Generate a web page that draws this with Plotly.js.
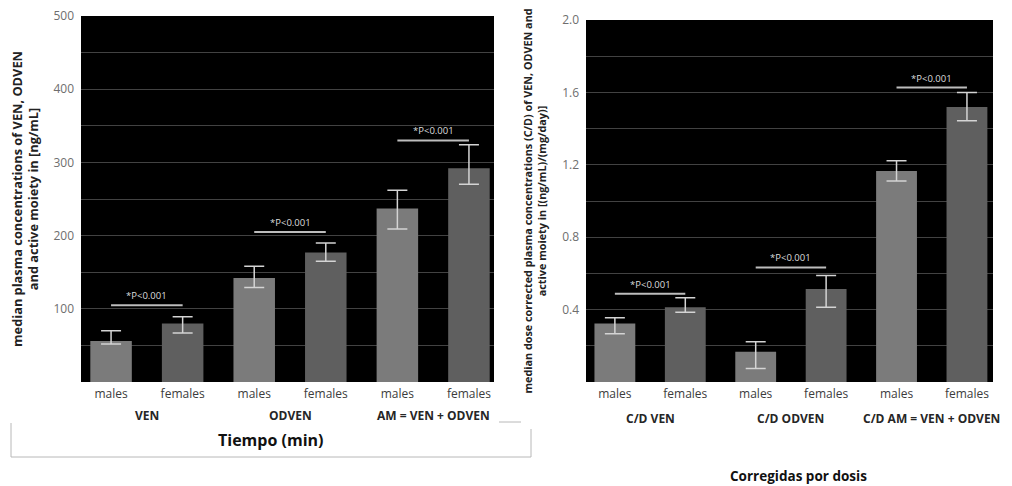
<!DOCTYPE html>
<html>
<head>
<meta charset="utf-8">
<script src="https://cdn.plot.ly/plotly-3.0.1.min.js"></script>
<style>html,body{margin:0;padding:0;background:#fff;}#chart{width:1012px;height:486px;}</style>
</head>
<body>
<div id="chart"></div>
<script>
// ---- data ----
const groupsLeft = ["VEN", "ODVEN", "AM = VEN + ODVEN"];
const groupsRight = ["C/D VEN", "C/D ODVEN", "C/D AM = VEN + ODVEN"];
const sexes = ["males", "females"];

// median plasma concentrations [ng/mL], order: VEN m/f, ODVEN m/f, AM m/f
const leftMedian = [56, 80, 142, 177, 237, 292];
const leftErrUp = [14, 9, 16, 13, 25, 32];
const leftErrDown = [4, 13, 13, 12, 28, 22];

// dose corrected C/D [(ng/mL)/(mg/day)]
const rightMedian = [0.323, 0.413, 0.167, 0.514, 1.166, 1.52];
const rightErrUp = [0.032, 0.052, 0.055, 0.075, 0.056, 0.08];
const rightErrDown = [0.056, 0.027, 0.092, 0.101, 0.055, 0.077];

const pLabel = "*P<0.001";
const leftPLevel = [105, 205, 330];
const rightPLevel = [0.488, 0.633, 1.627];

const leftTicks = [100, 200, 300, 400, 500];
const leftTickText = ["100", "200", "300", "400", "500"];
const rightTicks = [0.4, 0.8, 1.2, 1.6, 2.0];
const rightTickText = ["0.4", "0.8", "1.2", "1.6", "2.0"];

// ---- build ----
const FONT = "Open Sans, Noto Sans, sans-serif";
const MALE = "#7b7b7b", FEMALE = "#5f5f5f";

function cats(groups) {
  return groups.flatMap(g => sexes.map(s => g + " | " + s));
}
const catL = cats(groupsLeft);
const catR = cats(groupsRight);

function pick(arr, parity) { return arr.filter((_, i) => i % 2 === parity); }

function barTraces(catsArr, med, up, down, xa, ya) {
  return [0, 1].map(par => ({
    type: "bar",
    name: sexes[par],
    x: pick(catsArr, par),
    y: pick(med, par),
    xaxis: xa, yaxis: ya,
    width: 0.58,
    marker: {color: par === 0 ? MALE : FEMALE, line: {width: 0}},
    error_y: {type: "data", symmetric: false, array: pick(up, par), arrayminus: pick(down, par),
              color: "#d4d4d4", thickness: 1.5, width: 10},
    showlegend: false, hoverinfo: "x+y"
  }));
}

function pLines(catsArr, levels, xa, ya) {
  return levels.map((lv, g) => ({
    type: "scatter", mode: "lines",
    x: [catsArr[2 * g], catsArr[2 * g + 1]], y: [lv, lv],
    xaxis: xa, yaxis: ya,
    line: {color: "#bdbdbd", width: 2},
    showlegend: false, hoverinfo: "skip"
  }));
}

const traces = [
  ...barTraces(catL, leftMedian, leftErrUp, leftErrDown, "x", "y"),
  ...barTraces(catR, rightMedian, rightErrUp, rightErrDown, "x2", "y2"),
  ...pLines(catL, leftPLevel, "x", "y"),
  ...pLines(catR, rightPLevel, "x2", "y2")
];

// paper helpers (inner plot area: l=81, width 912, bottom 382, height 368)
const ML = 81, MR = 19, MT = 16, MB = 104;
const W = 1012, H = 486;
const IW = W - ML - MR, IH = H - MT - MB;
const px = v => (v - ML) / IW;
const py = v => (H - MB - v) / IH;

const annotations = [];
leftPLevel.forEach((lv, g) => annotations.push({
  xref: "x", yref: "y", x: 2 * g + 0.5, y: lv, text: pLabel, showarrow: false,
  xanchor: "center", yanchor: "bottom", yshift: 1, font: {family: FONT, size: 9.5, color: "#dcdcdc"}
}));
rightPLevel.forEach((lv, g) => annotations.push({
  xref: "x2", yref: "y2", x: 2 * g + 0.5, y: lv, text: pLabel, showarrow: false,
  xanchor: "center", yanchor: "bottom", yshift: 1, font: {family: FONT, size: 9.5, color: "#dcdcdc"}
}));
groupsLeft.forEach((g, i) => annotations.push({
  xref: "x", yref: "paper", x: 2 * i + 0.5, y: py(415), xanchor: "center", yanchor: "middle", text: g,
  showarrow: false, font: {family: FONT, size: 12, color: "#262626", weight: 700}
}));
groupsRight.forEach((g, i) => annotations.push({
  xref: "x2", yref: "paper", x: 2 * i + 0.5, y: py(418), xanchor: "center", yanchor: "middle", text: g,
  showarrow: false, font: {family: FONT, size: 12, color: "#262626", weight: 700}
}));
annotations.push({
  xref: "paper", yref: "paper", x: px(270), y: py(440), xanchor: "center", yanchor: "middle",
  text: "Tiempo (min)", showarrow: false,
  font: {family: FONT, size: 16, color: "#111", weight: 700}
});
annotations.push({
  xref: "paper", yref: "paper", x: px(798), y: py(476), xanchor: "center", yanchor: "middle",
  text: "Corregidas por dosis", showarrow: false,
  font: {family: FONT, size: 13.5, color: "#111", weight: 700}
});

const boxLine = {type: "line", xref: "paper", yref: "paper", line: {color: "#b8b8b8", width: 1}};
const shapes = [
  {...boxLine, x0: px(11), x1: px(11), y0: py(423), y1: py(457)},
  {...boxLine, x0: px(11), x1: px(531), y0: py(457), y1: py(457)},
  {...boxLine, x0: px(531), x1: px(531), y0: py(429), y1: py(457)},
  {...boxLine, x0: px(499), x1: px(521), y0: py(422), y1: py(422)}
];

const xBase = {
  type: "category", showgrid: false, zeroline: false, showline: false, ticks: "",
  tickfont: {family: FONT, size: 12, color: "#3c3c3c"}, ticklabelstandoff: 3, fixedrange: true
};
const yBase = {
  showgrid: true, gridcolor: "#424242", gridwidth: 1, zeroline: false, showline: false, ticks: "",
  tickfont: {family: FONT, size: 12, color: "#6e6e6e"}, ticklabelstandoff: 6, fixedrange: true
};

const layout = {
  width: W, height: H,
  margin: {l: ML, r: MR, t: MT, b: MB},
  paper_bgcolor: "#ffffff", plot_bgcolor: "#000000",
  barmode: "overlay", showlegend: false,
  font: {family: FONT},
  xaxis: {...xBase, domain: [0, px(494)], range: [-0.42, 5.35],
          categoryorder: "array", categoryarray: catL,
          tickmode: "array", tickvals: catL, ticktext: catL.map(c => c.split(" | ")[1]), anchor: "y"},
  xaxis2: {...xBase, domain: [px(586), 1], range: [-0.41, 5.37],
           categoryorder: "array", categoryarray: catR,
           tickmode: "array", tickvals: catR, ticktext: catR.map(c => c.split(" | ")[1]), anchor: "y2"},
  yaxis: {...yBase, domain: [0, 1], range: [0, 500], tickmode: "array", tickvals: leftTicks, ticktext: leftTickText,
          minor: {dtick: 50, tick0: 0, showgrid: true, gridcolor: "#424242", ticks: ""},
          anchor: "x",
          title: {text: "median plasma concentrations of VEN, ODVEN<br>and active moiety in [ng/mL]",
                  font: {family: FONT, size: 12.8, color: "#222", weight: 700}, standoff: 11}},
  yaxis2: {...yBase, domain: [0, py(20)], range: [0, 2.0], tickmode: "array", tickvals: rightTicks, ticktext: rightTickText,
           minor: {dtick: 0.2, tick0: 0, showgrid: true, gridcolor: "#424242", ticks: ""},
           anchor: "x2",
           title: {text: "median dose corrected plasma concentrations (C/D) of VEN, ODVEN and<br>active moiety in [(ng/mL)/(mg/day)]",
                   font: {family: FONT, size: 10.8, color: "#222", weight: 700}, standoff: 13}},
  annotations: annotations,
  shapes: shapes
};

Plotly.newPlot("chart", traces, layout, {displayModeBar: false, staticPlot: true});
</script>
</body>
</html>
